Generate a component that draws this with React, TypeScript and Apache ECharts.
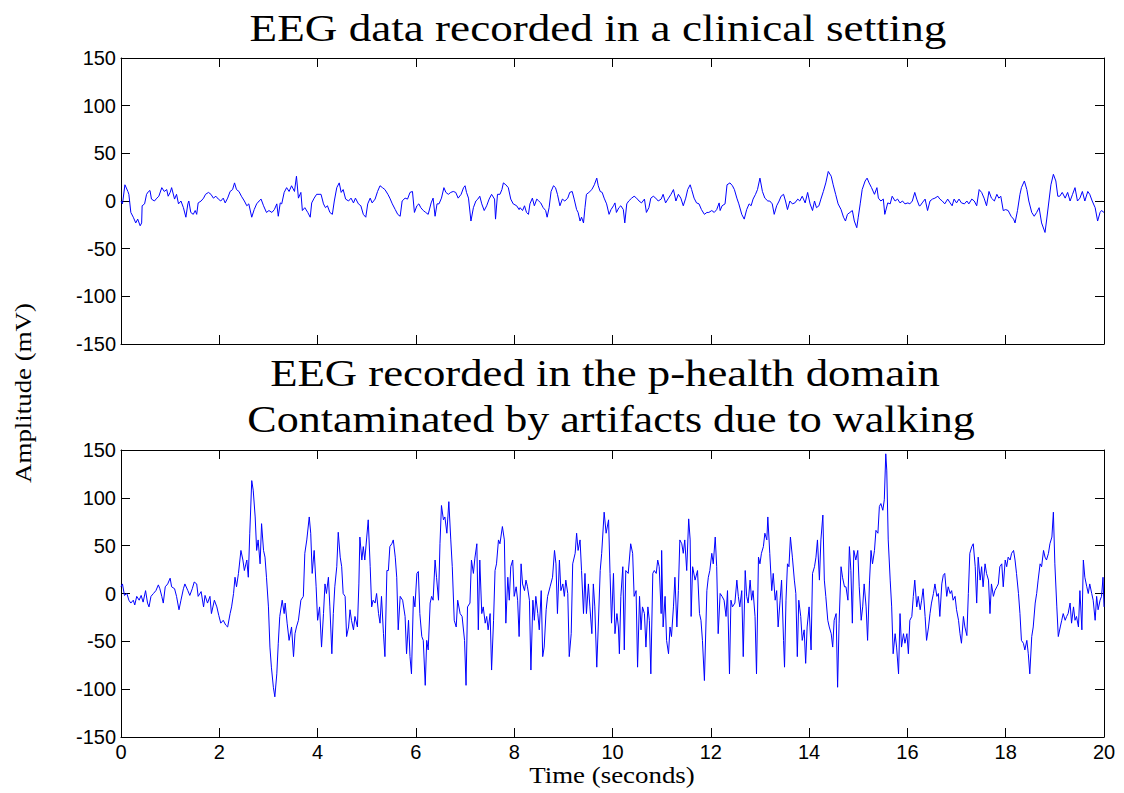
import React, { useEffect, useRef } from "react";
import * as echarts from "echarts";

// Time axis ticks (seconds) and amplitude ticks (mV)
const xTicks = [0, 2, 4, 6, 8, 10, 12, 14, 16, 18, 20];
const yTicks = [-150, -100, -50, 0, 50, 100, 150];

// [time (s), amplitude (mV)] — EEG recorded in a clinical setting
const clinicalEEG: [number, number][] = [
  [0,0],[0.03,-3],[0.08,17],[0.14,10],[0.16,7],[0.2,-12],[0.25,-17],[0.3,-23],[0.34,-19],[0.39,-26],[0.42,-23],[0.43,-5],[0.48,-3],[0.52,7],[0.56,10],[0.59,11],[0.62,2],[0.68,0],[0.73,3],[0.77,5],[0.83,14],[0.88,10],[0.93,12],[0.96,5],[1.0,9],[1.03,14],[1.09,2],[1.13,7],[1.17,-3],[1.22,0],[1.27,-7],[1.32,-17],[1.36,-3],[1.38,0],[1.42,-12],[1.47,-14],[1.51,-10],[1.54,-14],[1.57,-2],[1.63,0],[1.68,3],[1.72,7],[1.78,9],[1.83,7],[1.88,3],[1.93,5],[1.98,2],[2.03,0],[2.08,3],[2.12,-2],[2.17,3],[2.22,10],[2.27,12],[2.31,19],[2.35,12],[2.4,10],[2.45,5],[2.51,0],[2.56,-5],[2.6,-3],[2.66,-17],[2.71,-9],[2.76,-3],[2.81,0],[2.85,2],[2.9,-5],[2.96,-12],[3.01,-10],[3.07,-12],[3.12,-9],[3.17,-3],[3.2,-16],[3.24,-2],[3.27,-3],[3.32,9],[3.37,14],[3.42,10],[3.47,16],[3.53,10],[3.57,26],[3.61,3],[3.66,9],[3.69,-10],[3.74,-7],[3.8,-12],[3.85,-17],[3.88,-2],[3.93,3],[3.98,7],[4.03,7],
  [4.07,7],[4.12,-3],[4.16,-7],[4.2,-5],[4.25,-12],[4.3,-14],[4.34,0],[4.39,14],[4.44,19],[4.48,9],[4.52,12],[4.57,2],[4.63,0],[4.68,3],[4.73,-2],[4.77,3],[4.83,-3],[4.88,-5],[4.93,-14],[4.98,-17],[5.02,-3],[5.07,3],[5.11,-2],[5.17,2],[5.22,10],[5.27,16],[5.32,14],[5.37,12],[5.43,7],[5.47,3],[5.52,-3],[5.58,-9],[5.63,-14],[5.68,-16],[5.72,0],[5.78,3],[5.83,2],[5.88,9],[5.93,10],[5.97,-12],[6.02,-5],[6.06,-3],[6.1,-7],[6.15,-10],[6.2,-12],[6.25,-14],[6.31,-2],[6.35,3],[6.39,-16],[6.43,-3],[6.47,-3],[6.52,3],[6.57,14],[6.61,9],[6.66,7],[6.71,9],[6.76,10],[6.81,9],[6.86,3],[6.92,7],[6.97,14],[7.0,16],[7.03,9],[7.07,3],[7.12,-21],[7.17,-7],[7.22,0],[7.26,2],[7.3,5],[7.34,-3],[7.39,-10],[7.44,-5],[7.49,2],[7.54,7],[7.6,2],[7.62,-19],[7.66,7],[7.71,7],[7.75,12],[7.78,19],[7.83,17],[7.88,14],[7.93,2],[7.98,-3],[8.05,-5],[8.1,-9],
  [8.12,-7],[8.17,-10],[8.21,-5],[8.25,-12],[8.29,-14],[8.32,-3],[8.37,3],[8.41,-5],[8.46,2],[8.5,0],[8.54,-2],[8.59,-7],[8.64,-10],[8.67,-17],[8.71,-7],[8.75,10],[8.8,16],[8.84,14],[8.88,7],[8.93,-5],[8.98,2],[9.03,0],[9.09,3],[9.13,9],[9.18,10],[9.22,2],[9.27,-9],[9.3,-12],[9.34,-21],[9.37,-17],[9.41,-23],[9.44,-7],[9.47,7],[9.52,9],[9.58,12],[9.63,17],[9.68,24],[9.71,16],[9.75,10],[9.79,9],[9.83,3],[9.88,-3],[9.93,-14],[9.97,-9],[10.02,-5],[10.05,-2],[10.08,-12],[10.13,-7],[10.17,-5],[10.22,-9],[10.25,-23],[10.29,-3],[10.33,0],[10.39,3],[10.44,5],[10.49,3],[10.54,0],[10.59,-2],[10.65,2],[10.69,-12],[10.74,-7],[10.78,3],[10.83,5],[10.88,3],[10.93,0],[10.99,2],[11.03,7],[11.08,-2],[11.14,3],[11.19,7],[11.24,12],[11.29,0],[11.34,7],[11.39,3],[11.44,-5],[11.49,3],[11.53,12],[11.58,17],[11.61,12],[11.66,3],[11.71,-2],[11.76,-3],[11.81,-9],[11.87,-14],[11.92,-12],[11.96,-12],[12.02,-10],[12.07,-12],[12.12,-9],[12.17,-2],
  [12.19,-10],[12.23,-5],[12.29,-3],[12.33,17],[12.39,19],[12.44,16],[12.48,12],[12.53,3],[12.57,-3],[12.63,-14],[12.68,-19],[12.73,-9],[12.78,-3],[12.82,-5],[12.86,2],[12.91,7],[12.95,12],[13.0,24],[13.05,10],[13.1,3],[13.16,0],[13.2,0],[13.25,-3],[13.29,-14],[13.34,-5],[13.39,0],[13.43,5],[13.48,7],[13.52,0],[13.56,-9],[13.61,0],[13.66,-3],[13.71,-2],[13.77,2],[13.81,0],[13.86,5],[13.92,-2],[13.97,9],[14.02,-3],[14.07,-10],[14.11,0],[14.15,-7],[14.2,-5],[14.24,2],[14.29,10],[14.34,19],[14.39,31],[14.45,26],[14.49,17],[14.54,7],[14.59,-3],[14.65,-9],[14.7,-17],[14.74,-21],[14.78,-14],[14.83,-12],[14.88,-10],[14.92,-21],[14.97,-28],[15.0,-17],[15.04,-3],[15.08,12],[15.14,21],[15.18,24],[15.22,19],[15.27,14],[15.33,7],[15.38,14],[15.41,3],[15.46,0],[15.51,2],[15.54,-14],[15.6,-2],[15.65,-3],[15.69,5],[15.75,0],[15.8,2],[15.85,-2],[15.9,0],[15.95,-3],[16.01,-2],[16.05,-3],[16.1,0],[16.15,9],[16.19,2],[16.24,-5],
  [16.26,-5],[16.3,-2],[16.36,2],[16.41,-10],[16.46,0],[16.51,2],[16.56,3],[16.62,5],[16.66,2],[16.71,0],[16.76,-3],[16.82,2],[16.87,-2],[16.91,-5],[16.95,2],[17.0,-2],[17.05,2],[17.1,-2],[17.16,-3],[17.21,0],[17.25,-3],[17.31,2],[17.36,0],[17.41,-5],[17.46,12],[17.51,9],[17.56,3],[17.61,-5],[17.66,10],[17.71,3],[17.77,0],[17.82,7],[17.86,3],[17.9,5],[17.95,-10],[18.0,-9],[18.05,-10],[18.11,-16],[18.16,-19],[18.19,-23],[18.24,-10],[18.29,7],[18.32,14],[18.38,21],[18.43,12],[18.47,0],[18.53,-12],[18.58,-16],[18.63,-12],[18.68,-7],[18.73,-23],[18.8,-33],[18.83,-21],[18.88,0],[18.92,17],[18.97,28],[19.02,21],[19.06,5],[19.1,5],[19.15,9],[19.21,3],[19.26,9],[19.31,0],[19.36,7],[19.41,14],[19.46,0],[19.51,3],[19.56,10],[19.61,0],[19.67,10],[19.71,7],[19.76,0],[19.82,-7],[19.87,-21],[19.92,-12],[19.95,-10],[20.0,-12]
];

// [time (s), amplitude (mV)] — EEG recorded while walking (p-health domain)
const walkingEEG: [number, number][] = [
  [0,7],[0.03,10],[0.07,-2],[0.12,0],[0.16,-7],[0.2,-10],[0.25,-7],[0.28,-12],[0.32,-3],[0.37,-7],[0.41,-2],[0.45,-9],[0.5,3],[0.54,-10],[0.57,-14],[0.61,-3],[0.66,0],[0.71,3],[0.76,9],[0.79,5],[0.83,-3],[0.86,-10],[0.9,7],[0.95,10],[1.0,16],[1.03,7],[1.09,5],[1.13,-3],[1.18,-17],[1.22,-7],[1.27,5],[1.3,10],[1.36,3],[1.4,-2],[1.45,5],[1.49,12],[1.54,10],[1.57,-3],[1.63,2],[1.68,-14],[1.71,-2],[1.76,-10],[1.81,-3],[1.84,-21],[1.9,-7],[1.95,-14],[1.99,-23],[2.03,-31],[2.08,-28],[2.13,-33],[2.17,-35],[2.22,-21],[2.25,-14],[2.29,0],[2.32,17],[2.35,7],[2.39,21],[2.44,45],[2.48,35],[2.51,24],[2.56,35],[2.59,17],[2.62,63],[2.66,118],[2.69,108],[2.73,80],[2.76,45],[2.79,56],[2.83,31],[2.86,73],[2.9,45],[2.93,38],[2.96,17],[3.0,-14],[3.03,-56],[3.06,-77],[3.1,-98],[3.13,-108],[3.17,-84],[3.2,-52],[3.23,-24],[3.28,-7],[3.32,-21],
  [3.34,-10],[3.38,-31],[3.42,-49],[3.47,-35],[3.51,-66],[3.54,-42],[3.57,-35],[3.61,-28],[3.66,-7],[3.71,-3],[3.74,42],[3.78,56],[3.83,80],[3.86,63],[3.89,21],[3.93,45],[3.97,7],[4.0,-28],[4.04,-14],[4.08,-56],[4.12,-21],[4.15,10],[4.18,0],[4.22,17],[4.25,-14],[4.29,-63],[4.32,-21],[4.35,7],[4.39,28],[4.42,64],[4.46,38],[4.49,28],[4.52,0],[4.56,-3],[4.59,-45],[4.63,-35],[4.66,-17],[4.69,-28],[4.73,-38],[4.76,-24],[4.81,-35],[4.84,10],[4.86,59],[4.9,35],[4.93,49],[4.96,35],[5.0,59],[5.03,77],[5.07,28],[5.1,-14],[5.13,-7],[5.17,-10],[5.2,0],[5.24,-21],[5.27,-31],[5.3,-3],[5.34,-42],[5.37,-66],[5.41,24],[5.44,24],[5.47,49],[5.51,52],[5.54,56],[5.58,38],[5.61,17],[5.64,-38],[5.68,-3],[5.73,-7],[5.78,-24],[5.81,-63],[5.85,-28],[5.88,-66],[5.91,-84],[5.95,-3],[5.98,-14],[6.02,21],[6.05,23],[6.08,-21],[6.12,-45],[6.15,-49],[6.19,-96],[6.22,-49],[6.25,-59],[6.29,-10],[6.32,-3],[6.35,-7],[6.39,35],[6.42,17],[6.46,-7],[6.49,52],[6.52,92],[6.56,77],[6.59,80],[6.63,63],
  [6.67,96],[6.71,56],[6.74,28],[6.78,-28],[6.82,-35],[6.85,-7],[6.9,-21],[6.94,-24],[6.99,-49],[7.02,-96],[7.05,-14],[7.1,-10],[7.13,35],[7.17,21],[7.2,37],[7.24,52],[7.27,-38],[7.3,35],[7.34,-21],[7.37,-14],[7.41,-31],[7.44,-24],[7.47,-38],[7.51,-21],[7.54,-80],[7.58,-28],[7.61,24],[7.64,31],[7.68,56],[7.71,52],[7.76,70],[7.8,56],[7.83,-31],[7.87,17],[7.9,-7],[7.93,28],[7.97,35],[8.0,-3],[8.04,7],[8.07,-7],[8.1,-45],[8.14,31],[8.17,10],[8.21,3],[8.24,14],[8.27,7],[8.31,-7],[8.34,-80],[8.38,-7],[8.41,-28],[8.44,-3],[8.48,-21],[8.51,-38],[8.55,3],[8.58,-66],[8.61,-56],[8.65,-17],[8.68,-3],[8.73,7],[8.78,17],[8.82,45],[8.85,31],[8.88,-21],[8.92,35],[8.95,3],[8.99,10],[9.02,-3],[9.05,14],[9.09,0],[9.12,-66],[9.16,-42],[9.19,31],[9.24,42],[9.27,63],[9.3,45],[9.34,56],[9.37,24],[9.41,-21],[9.44,21],[9.47,-21],[9.51,10],[9.54,-14],[9.58,-42],[9.61,10],[9.64,-14],[9.68,-77],[9.71,-35],[9.75,24],[9.78,42],[9.83,85],[9.87,63],[9.92,77],[9.95,21],[9.98,-31],[10.02,21],[10.05,-42],
  [10.09,-21],[10.12,-35],[10.14,-63],[10.17,-3],[10.21,28],[10.24,-59],[10.27,24],[10.32,21],[10.37,52],[10.41,42],[10.44,-3],[10.48,3],[10.51,-77],[10.55,-3],[10.58,-38],[10.61,-14],[10.65,-21],[10.68,-56],[10.72,-14],[10.75,-28],[10.78,-84],[10.82,21],[10.85,24],[10.89,21],[10.92,35],[10.95,28],[10.99,-21],[11.0,45],[11.03,-35],[11.07,-3],[11.1,-49],[11.14,-63],[11.17,-35],[11.2,-45],[11.24,-14],[11.27,17],[11.31,-35],[11.34,3],[11.37,56],[11.41,52],[11.44,42],[11.47,56],[11.51,24],[11.55,78],[11.58,56],[11.6,-24],[11.63,28],[11.68,14],[11.73,24],[11.77,-21],[11.8,-28],[11.83,-49],[11.87,-91],[11.92,3],[11.95,17],[11.98,24],[12.02,42],[12.05,31],[12.09,59],[12.12,28],[12.15,-42],[12.19,0],[12.23,-3],[12.27,-7],[12.31,-24],[12.34,3],[12.38,-84],[12.41,-7],[12.44,-14],[12.49,-10],[12.53,14],[12.56,-3],[12.59,-14],[12.63,3],[12.66,-66],[12.7,24],[12.73,-3],[12.76,-10],[12.8,14],[12.83,-7],[12.86,3],[12.9,-24],[12.93,-84],[12.97,38],[13.0,31],[13.03,42],[13.07,49],[13.1,63],[13.14,56],[13.16,80],[13.2,42],[13.24,3],[13.27,21],[13.31,-7],[13.34,3],[13.37,-35],
  [13.41,-7],[13.44,14],[13.48,-49],[13.5,-77],[13.53,-7],[13.56,31],[13.59,28],[13.62,59],[13.66,38],[13.7,14],[13.73,0],[13.76,-66],[13.79,-7],[13.83,-24],[13.86,-49],[13.9,-38],[13.93,-73],[13.96,-35],[14.0,-14],[14.04,-59],[14.07,21],[14.11,28],[14.14,38],[14.17,56],[14.21,14],[14.24,56],[14.28,82],[14.31,14],[14.34,-3],[14.38,-28],[14.41,-35],[14.45,-42],[14.48,-56],[14.51,-28],[14.55,-21],[14.58,-98],[14.61,-31],[14.65,28],[14.68,17],[14.72,7],[14.75,7],[14.79,-7],[14.82,49],[14.85,24],[14.88,-31],[14.91,45],[14.95,35],[14.99,45],[15.02,7],[15.06,-28],[15.09,-14],[15.12,10],[15.16,-14],[15.19,-49],[15.23,14],[15.26,45],[15.29,31],[15.33,45],[15.36,66],[15.4,63],[15.43,91],[15.46,94],[15.5,87],[15.53,98],[15.56,146],[15.58,129],[15.61,56],[15.65,14],[15.68,-14],[15.71,-63],[15.75,-42],[15.78,-56],[15.82,-84],[15.85,-21],[15.88,-56],[15.92,-42],[15.95,-52],[15.99,-42],[16.02,-63],[16.05,-28],[16.09,-24],[16.12,-3],[16.15,14],[16.19,-14],[16.22,-3],[16.26,-17],[16.29,-7],[16.32,5],[16.36,-24],[16.39,-49],[16.43,-35],[16.46,-21],[16.49,-10],[16.53,0],[16.56,10],[16.6,-3],[16.63,0],[16.66,-24],[16.7,10],[16.73,19],
  [16.76,21],[16.8,-3],[16.83,7],[16.87,0],[16.9,3],[16.93,-7],[16.97,-3],[17.0,-17],[17.04,-28],[17.07,-42],[17.1,-52],[17.14,-24],[17.17,-35],[17.21,-44],[17.24,0],[17.27,42],[17.31,49],[17.34,52],[17.38,28],[17.41,-10],[17.44,38],[17.48,14],[17.51,28],[17.54,7],[17.58,31],[17.61,21],[17.65,14],[17.68,-21],[17.71,10],[17.75,-3],[17.78,3],[17.82,7],[17.85,10],[17.88,28],[17.92,31],[17.95,7],[17.99,35],[18.02,28],[18.05,38],[18.09,35],[18.12,42],[18.16,45],[18.19,35],[18.22,21],[18.26,0],[18.29,-21],[18.32,-49],[18.36,-52],[18.39,-59],[18.43,-49],[18.46,-63],[18.49,-84],[18.53,-45],[18.56,-35],[18.6,-10],[18.63,0],[18.66,14],[18.7,31],[18.73,28],[18.77,45],[18.8,38],[18.83,35],[18.87,42],[18.9,52],[18.94,59],[18.97,85],[19.0,31],[19.04,-14],[19.07,-45],[19.11,-35],[19.14,-28],[19.17,-21],[19.21,-28],[19.24,-24],[19.27,-21],[19.31,-10],[19.34,-31],[19.38,-14],[19.41,-28],[19.44,-24],[19.48,-35],[19.51,3],[19.55,-38],[19.58,35],[19.61,17],[19.65,7],[19.68,0],[19.71,10],[19.75,0],[19.78,-7],[19.82,-28],[19.85,-3],[19.88,-17],[19.92,-7],[19.95,-3],[19.98,17],[20.0,-14]
];

const titleTop = "EEG data recorded in a clinical setting";
const titleBottom1 = "EEG recorded in the p-health domain";
const titleBottom2 = "Contaminated by artifacts due to walking";
const yLabel = "Amplitude (mV)";
const xLabel = "Time (seconds)";

const SERIF = "'Liberation Serif', 'DejaVu Serif', serif";
const SANS = "'Liberation Sans', Arial, sans-serif";

function xAxisDef(gridIndex: number, position: "top" | "bottom", showLabel: boolean) {
  return {
    type: "value",
    gridIndex,
    position,
    min: xTicks[0],
    max: xTicks[xTicks.length - 1],
    interval: xTicks[1] - xTicks[0],
    axisLine: { show: true, onZero: false, lineStyle: { color: "#000", width: 1 } },
    axisTick: { show: true, inside: true, length: 9, lineStyle: { color: "#000", width: 1 } },
    axisLabel: {
      show: showLabel,
      color: "#000",
      fontFamily: SANS,
      fontSize: 20,
      margin: 5,
    },
    splitLine: { show: false },
  };
}

function yAxisDef(gridIndex: number, position: "left" | "right", showLabel: boolean) {
  return {
    type: "value",
    gridIndex,
    position,
    min: yTicks[0],
    max: yTicks[yTicks.length - 1],
    interval: yTicks[1] - yTicks[0],
    axisLine: { show: true, onZero: false, lineStyle: { color: "#000", width: 1 } },
    axisTick: { show: true, inside: true, length: 9, lineStyle: { color: "#000", width: 1 } },
    axisLabel: {
      show: showLabel,
      color: "#000",
      fontFamily: SANS,
      fontSize: 20,
      margin: 5,
    },
    splitLine: { show: false },
  };
}

function textEl(text: string, x: number, y: number, size: number, stretch: number, rotation = 0) {
  return {
    type: "text",
    x,
    y,
    rotation,
    scaleX: stretch,
    scaleY: 1,
    style: {
      text,
      x: 0,
      y: 0,
      fill: "#000",
      font: `${size}px ${SERIF}`,
      align: "center",
      verticalAlign: "middle",
      textAlign: "center",
      textVerticalAlign: "middle",
    },
  };
}

export default function App() {
  const ref = useRef<HTMLDivElement>(null);

  useEffect(() => {
    if (!ref.current) return;
    const chart = echarts.init(ref.current, undefined, { renderer: "svg" });
    const option = {
      animation: false,
      backgroundColor: "#fff",
      grid: [
        { left: 121, top: 58, width: 983, height: 286 },
        { left: 121, top: 450, width: 983, height: 287 },
      ],
      xAxis: [
        xAxisDef(0, "bottom", false),
        xAxisDef(0, "top", false),
        xAxisDef(1, "bottom", true),
        xAxisDef(1, "top", false),
      ],
      yAxis: [
        yAxisDef(0, "left", true),
        yAxisDef(0, "right", false),
        yAxisDef(1, "left", true),
        yAxisDef(1, "right", false),
      ],
      series: [
        {
          type: "line",
          name: "clinical",
          xAxisIndex: 0,
          yAxisIndex: 0,
          data: clinicalEEG,
          showSymbol: false,
          symbol: "none",
          lineStyle: { color: "#0000ff", width: 1 },
          silent: true,
        },
        {
          type: "line",
          name: "walking",
          xAxisIndex: 2,
          yAxisIndex: 2,
          data: walkingEEG,
          showSymbol: false,
          symbol: "none",
          lineStyle: { color: "#0000ff", width: 1 },
          silent: true,
        },
      ],
      graphic: [
        textEl(titleTop, 598, 28, 37, 1.22),
        textEl(titleBottom1, 605, 373, 37, 1.21),
        textEl(titleBottom2, 611, 420, 37, 1.19),
        textEl(yLabel, 23, 393, 24, 1.12, Math.PI / 2),
        textEl(xLabel, 612, 775, 24, 1.12),
      ],
    };
    chart.setOption(option as any);
    return () => chart.dispose();
  }, []);

  return (
    <div
      ref={ref}
      style={{ position: "fixed", left: 0, top: 0, width: 1124, height: 793, background: "#fff" }}
    />
  );
}
